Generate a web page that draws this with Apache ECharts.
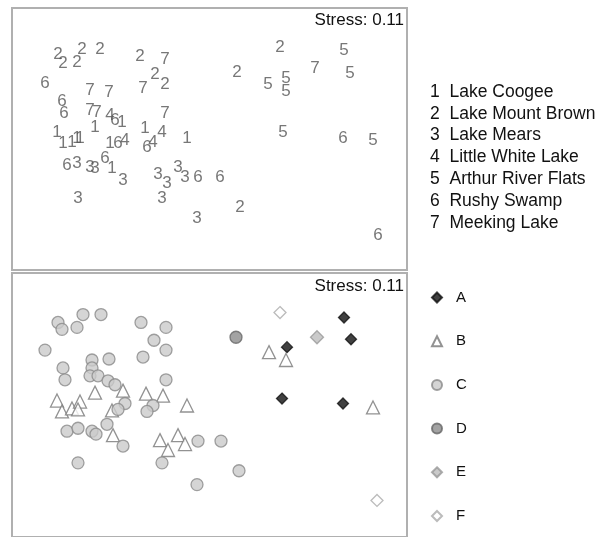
<!DOCTYPE html>
<html><head><meta charset="utf-8">
<script src="https://cdn.jsdelivr.net/npm/echarts@6/dist/echarts.min.js"></script>
<style>html,body{margin:0;padding:0;background:#fff}#c{width:609px;height:537px}</style>
</head><body><div id="c"></div>
<script>
// ---- Top panel: NMDS ordination labelled by lake (digit = lake number) ----
const lakeNames = ['Lake Coogee','Lake Mount Brown','Lake Mears','Little White Lake','Arthur River Flats','Rushy Swamp','Meeking Lake'];
const lake1 = [[-0.88,0.15],[-1.15,0.10],[-1.53,0.05],[-1.47,-0.06],[-1.38,-0.05],[-1.33,-0.01],[-1.30,-0.01],[-1.00,-0.06],[-0.65,0.09],[-0.23,-0.01],[-0.98,-0.31]];
const lake2 = [[-1.52,0.83],[-1.47,0.74],[-1.33,0.75],[-1.28,0.88],[-1.10,0.88],[-0.70,0.81],[-0.55,0.63],[-0.45,0.53],[0.30,-0.70],[0.70,0.90],[0.27,0.65]];
const lake3 = [[-1.33,-0.26],[-1.20,-0.30],[-1.15,-0.31],[-0.87,-0.43],[-0.52,-0.37],[-0.43,-0.46],[-0.32,-0.30],[-0.25,-0.40],[-1.32,-0.61],[-0.48,-0.61],[-0.13,-0.81]];
const lake4 = [[-1.00,0.22],[-0.85,-0.03],[-0.48,0.05],[-0.57,-0.05]];
const lake5 = [[1.34,0.87],[0.58,0.53],[0.76,0.59],[0.76,0.46],[1.40,0.64],[0.73,0.05],[1.63,-0.03]];
const lake6 = [[-1.65,0.54],[-1.48,0.36],[-1.46,0.24],[-0.95,0.17],[-0.92,-0.06],[-0.63,-0.10],[-1.43,-0.28],[-1.05,-0.21],[-0.12,-0.40],[0.10,-0.40],[1.33,-0.01],[1.68,-0.98]];
const lake7 = [[-0.45,0.78],[-0.67,0.49],[-1.20,0.47],[-1.01,0.45],[-1.20,0.27],[-1.13,0.25],[-0.45,0.24],[1.05,0.69]];
const lakeData = [lake1, lake2, lake3, lake4, lake5, lake6, lake7];

// ---- Bottom panel: same ordination labelled by group A–F ----
const groupNames = ['A','B','C','D','E','F'];
const grpA = [[1.34,0.89],[1.41,0.67],[0.77,0.59],[0.72,0.07],[1.33,0.02]];
const grpB = [[0.59,0.54],[0.76,0.46],[1.63,-0.02],[-1.53,0.05],[-1.48,-0.06],[-1.38,-0.03],[-1.30,0.04],[-1.32,-0.04],[-1.15,0.13],[-0.87,0.15],[-0.98,-0.05],[-0.64,0.12],[-0.47,0.10],[-0.23,0.00],[-0.97,-0.30],[-0.50,-0.35],[-0.32,-0.30],[-0.25,-0.39],[-0.42,-0.45]];
const grpC = [[-1.52,0.84],[-1.48,0.77],[-1.33,0.79],[-1.27,0.92],[-1.09,0.92],[-0.69,0.84],[-0.44,0.79],[-0.56,0.66],[-0.44,0.56],[-1.65,0.56],[-1.18,0.46],[-1.01,0.47],[-0.67,0.49],[-1.47,0.38],[-1.18,0.38],[-1.45,0.26],[-1.20,0.30],[-1.12,0.30],[-1.02,0.25],[-0.95,0.21],[-0.44,0.26],[-0.85,0.02],[-0.92,-0.04],[-0.57,0.00],[-0.63,-0.06],[-1.43,-0.26],[-1.32,-0.23],[-1.18,-0.26],[-1.14,-0.29],[-1.03,-0.19],[-0.87,-0.41],[-0.12,-0.36],[0.11,-0.36],[-1.32,-0.58],[-0.48,-0.58],[0.29,-0.66],[-0.13,-0.80]];
const grpD = [[0.26,0.69]];
const grpE = [[1.07,0.69]];
const grpF = [[0.70,0.94],[1.67,-0.96]];
const groupData = [grpA, grpB, grpC, grpD, grpE, grpF];

const stressText = 'Stress: 0.11';

const groupStyles = [
  {symbol:'diamond', size:11, color:'#111', border:'#111'},
  {symbol:'triangle', size:13, color:'#fff', border:'#777'},
  {symbol:'circle', size:12, color:'#cacaca', border:'#8a8a8a'},
  {symbol:'circle', size:12, color:'#8c8c8c', border:'#666'},
  {symbol:'diamond', size:13, color:'#bdbdbd', border:'#999'},
  {symbol:'diamond', size:12, color:'#fff', border:'#aaa'}
];

const FONT = '"Liberation Sans", Arial, sans-serif';
const chart = echarts.init(document.getElementById('c'), null, {renderer:'canvas'});

const hiddenAxis = {
  type:'value', axisLine:{show:false}, axisTick:{show:false},
  axisLabel:{show:false}, splitLine:{show:false}
};

const series = [];
lakeData.forEach((d, i) => {
  series.push({
    type:'scatter', name: lakeNames[i], xAxisIndex:0, yAxisIndex:0,
    data:d, symbol:'circle', symbolSize:1,
    itemStyle:{color:'rgba(0,0,0,0)'},
    label:{show:true, position:'inside', formatter: String(i+1),
      color:'#555', fontSize:17, fontFamily:FONT},
    emphasis:{disabled:true}, silent:true, z: 2
  });
});
groupData.forEach((d, i) => {
  const s = groupStyles[i];
  series.push({
    type:'scatter', name: groupNames[i], xAxisIndex:1, yAxisIndex:1,
    data:d, symbol:s.symbol, symbolSize:s.size,
    itemStyle:{color:s.color, borderColor:s.border, borderWidth:1.3},
    emphasis:{disabled:true}, silent:true, z: 2
  });
});

chart.setOption({
  animation:false,
  backgroundColor:'#fff',
  grid:[
    {left:12, top:8, width:395, height:262, show:true, borderColor:'#b0b0b0', borderWidth:2, backgroundColor:'#fff'},
    {left:12, top:273, width:395, height:267, show:true, borderColor:'#b0b0b0', borderWidth:2, backgroundColor:'#fff'}
  ],
  xAxis:[
    Object.assign({gridIndex:0, min:-1.98, max:1.97}, hiddenAxis),
    Object.assign({gridIndex:1, min:-1.98, max:1.97}, hiddenAxis)
  ],
  yAxis:[
    Object.assign({gridIndex:0, min:-1.33, max:1.29}, hiddenAxis),
    Object.assign({gridIndex:1, min:-1.33, max:1.34}, hiddenAxis)
  ],
  title:[
    {text:stressText, right:205, top:12, padding:0,
     textStyle:{fontSize:17, fontWeight:'normal', color:'#111', fontFamily:FONT}},
    {text:stressText, right:205, top:278, padding:0,
     textStyle:{fontSize:17, fontWeight:'normal', color:'#111', fontFamily:FONT}}
  ],
  legend:[
    {data:lakeNames, orient:'vertical', left:421, top:78, itemWidth:0, itemHeight:16, itemGap:3.8,
     selectedMode:false,
     formatter: name => (lakeNames.indexOf(name)+1) + '  ' + name,
     textStyle:{fontSize:17.5, color:'#111', fontFamily:FONT, padding:[0,0,0,-1]}},
    {data:groupNames, orient:'vertical', left:426, top:285, height:250, itemWidth:10, itemHeight:10, itemGap:28.7,
     selectedMode:false,
     textStyle:{fontSize:15, color:'#111', fontFamily:FONT, padding:[0,0,0,9]}}
  ],
  series: series
});
</script>
</body></html>
